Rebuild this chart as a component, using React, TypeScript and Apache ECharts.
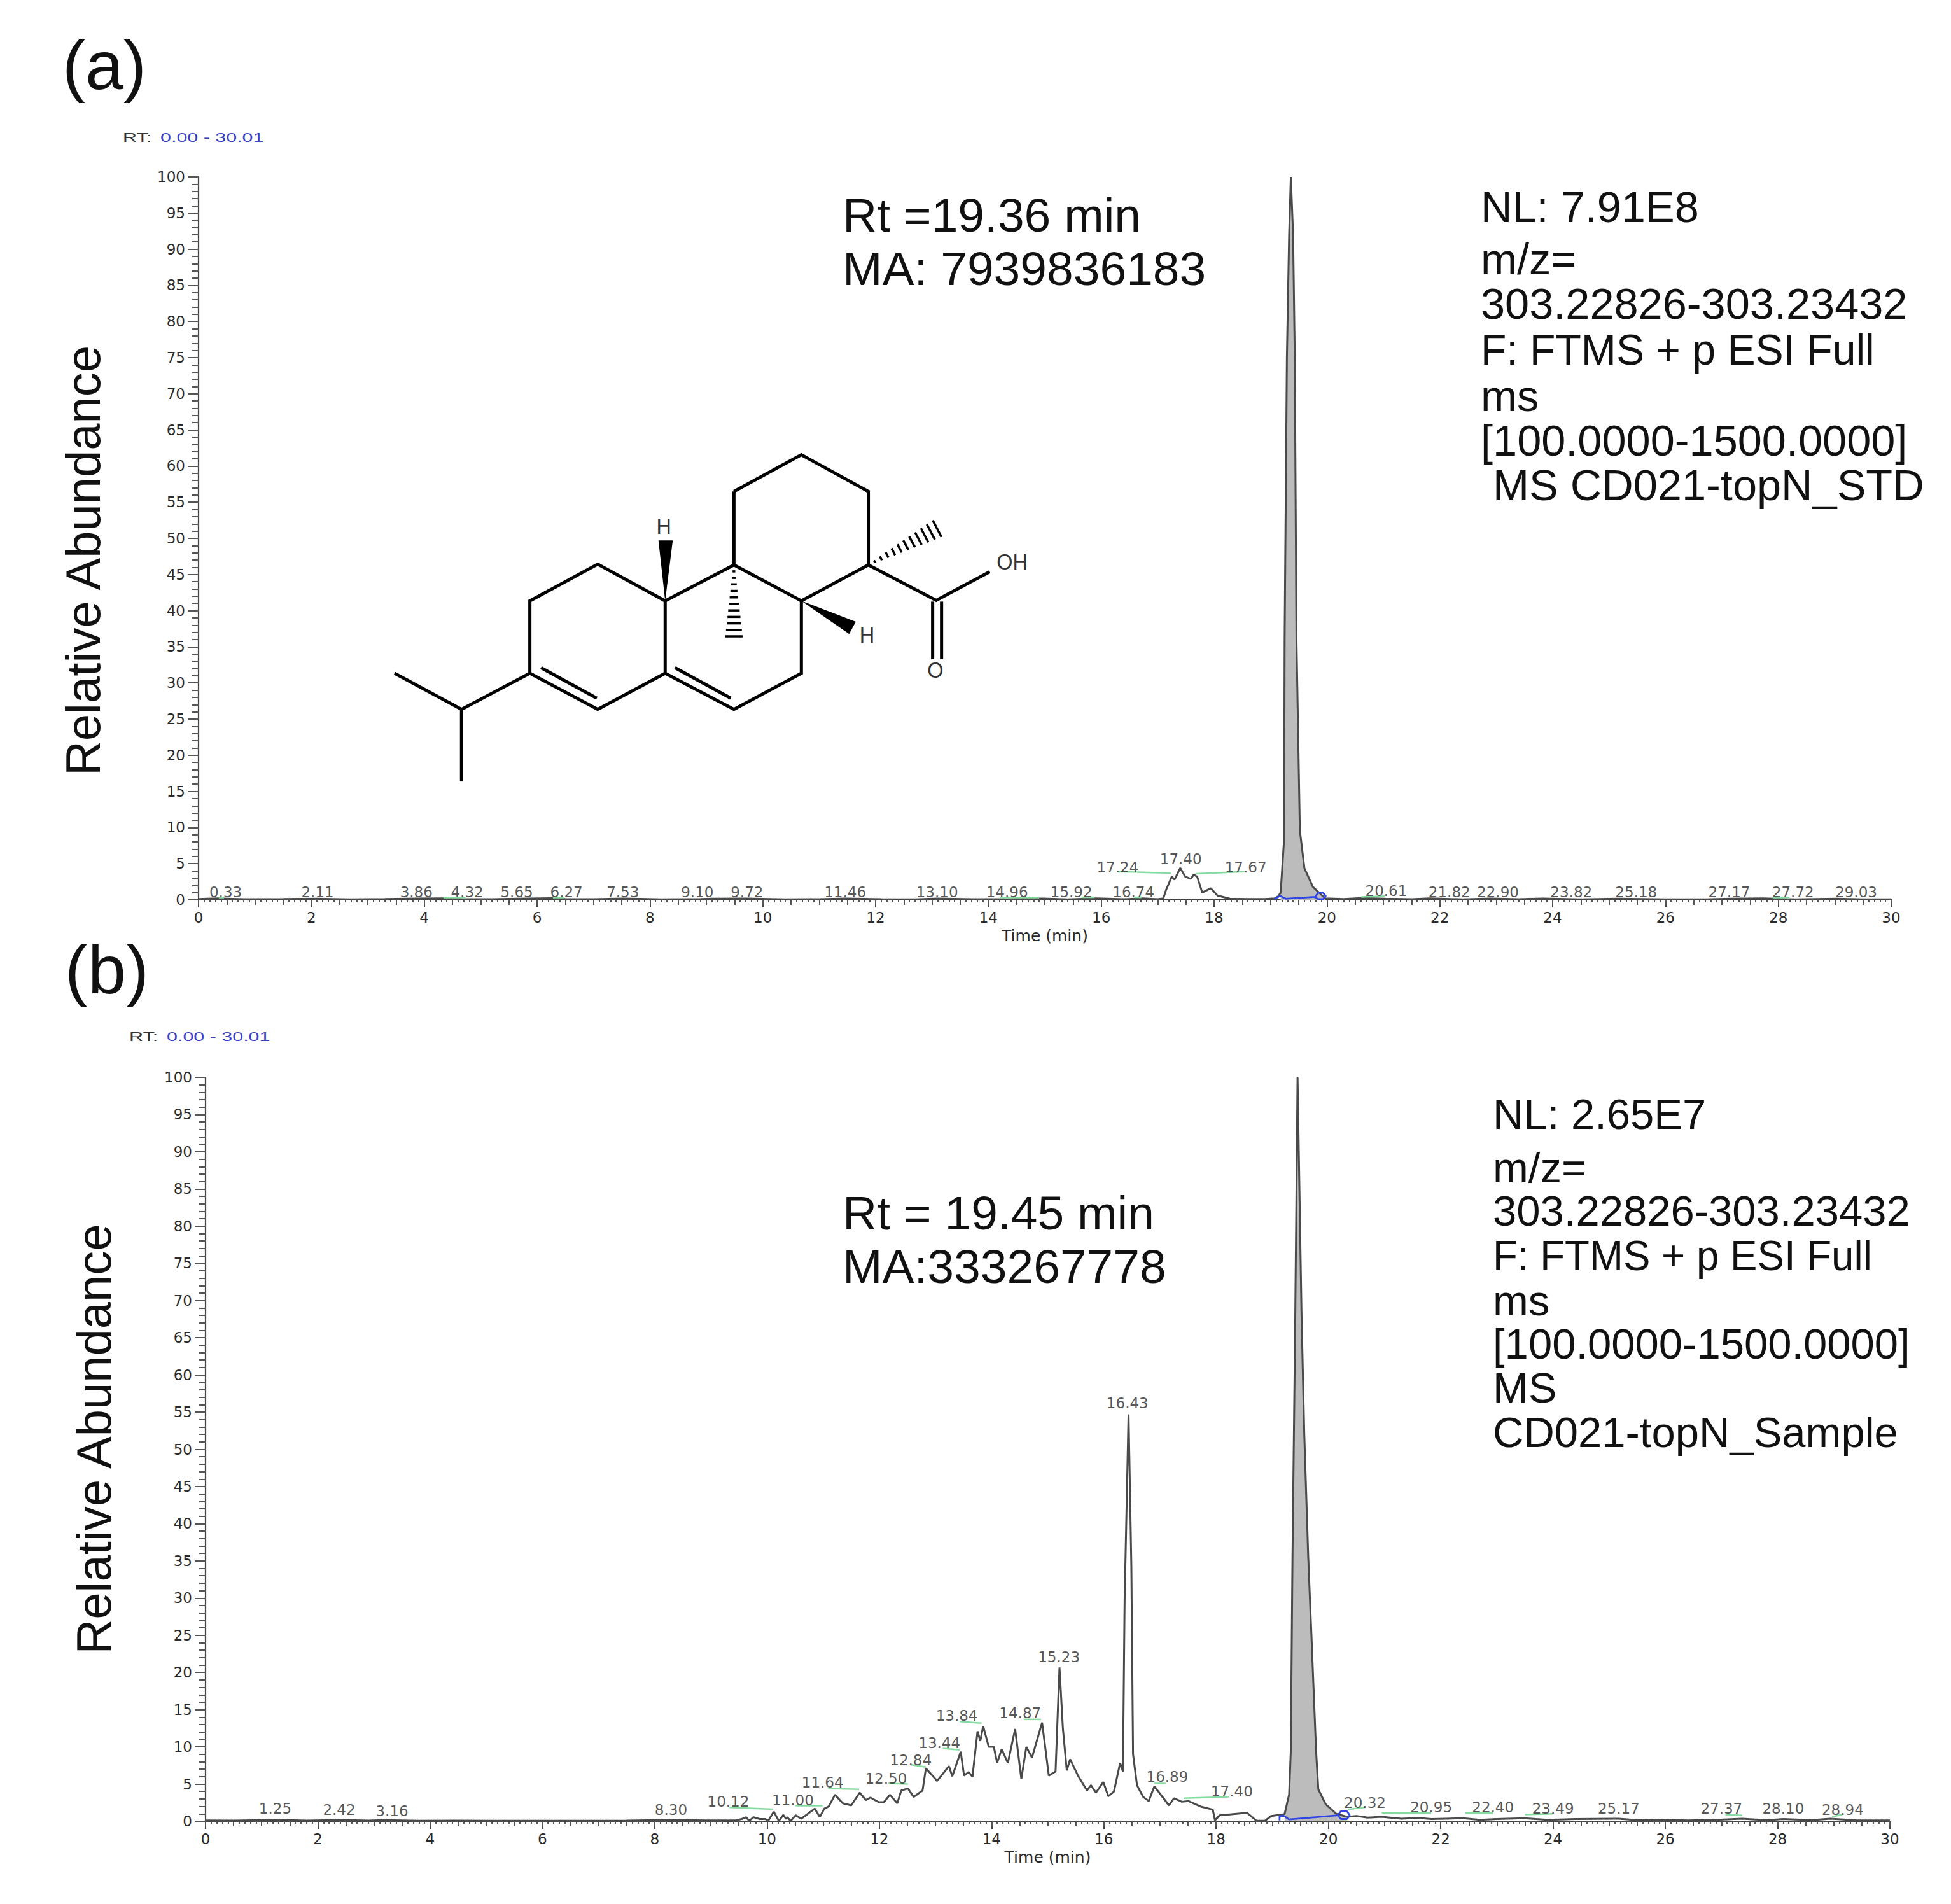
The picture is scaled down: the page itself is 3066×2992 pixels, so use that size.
import React, { useEffect, useRef } from "react";
import * as echarts from "echarts";

// ---------- Panel (a) trace ----------
const aPreTime = [0,0.33,0.8,1.5,2.11,2.7,3.3,3.86,4.32,4.7,5.2,5.65,6.27,6.5,7,7.53,8.2,8.9,9.1,9.72,10.4,11,11.46,12.1,12.7,13.1,13.7,14.3,14.96,15.4,15.92,16.4,16.74,17.0,17.1,17.15,17.25,17.3,17.4,17.49,17.59,17.64,17.7,17.79,17.94,18.06,18.28,18.6,18.9,19.07,19.14];
const aPreAbund = [0.1,0.2,0.08,0.1,0.15,0.07,0.1,0.18,0.2,0.1,0.08,0.15,0.22,0.1,0.08,0.18,0.06,0.1,0.16,0.18,0.07,0.09,0.17,0.08,0.07,0.17,0.09,0.08,0.18,0.07,0.2,0.09,0.2,0.08,0.2,1.4,3.2,2.8,4.4,3.2,2.9,3.5,3.2,1.0,1.6,0.6,0.15,0.1,0.12,0.2,0.5];
const aPeakTime = [19.18,19.24,19.25,19.29,19.33,19.36,19.4,19.43,19.46,19.52,19.6,19.75,19.97];
const aPeakAbund = [1.0,8.3,36,75,92,100,92,75,36,9.6,4.4,1.8,0.2];
const aPostTime = [20.3,20.61,21.03,21.5,21.82,22.4,22.9,23.4,23.82,24.5,25.18,26,26.7,27.17,27.72,28.3,29.03,29.5,30];
const aPostAbund = [0.12,0.25,0.15,0.08,0.2,0.07,0.18,0.08,0.17,0.07,0.16,0.06,0.07,0.16,0.2,0.07,0.15,0.06,0.07];

// ---------- Panel (b) trace ----------
const bPreTime = [0,0.5,1,1.25,1.8,2.42,2.9,3.16,3.8,4.5,5.2,6,6.8,7.5,8.3,8.9,9.44,9.55,9.63,9.68,9.76,9.87,9.97,10.02,10.12,10.21,10.29,10.34,10.36,10.42,10.51,10.61,10.85,10.94,11.02,11.1,11.21,11.35,11.5,11.65,11.76,11.84,11.99,12.08,12.19,12.32,12.39,12.51,12.61,12.77,12.83,13.03,13.24,13.3,13.45,13.51,13.59,13.66,13.75,13.8,13.85,13.95,14.04,14.1,14.18,14.29,14.42,14.53,14.62,14.72,14.9,15.02,15.14,15.21,15.27,15.34,15.4,15.54,15.7,15.77,15.86,15.99,16.08,16.18,16.29,16.34,16.37,16.44,16.49,16.52,16.59,16.61,16.7,16.8,16.9,17.16,17.25,17.39,17.51,17.74,17.94,17.98,18.06,18.55,18.72,18.87,18.98,19.19];
const bPreAbund = [0.1,0.08,0.15,0.2,0.08,0.18,0.08,0.16,0.06,0.08,0.06,0.07,0.06,0.08,0.18,0.1,0.1,0.3,0.55,0.05,0.55,0.3,0.3,0.05,1.28,0.05,0.85,0.3,0.55,0.05,0.8,0.34,1.7,0.57,1.7,2.0,3.56,2.42,2.14,3.85,2.85,3.19,2.57,2.57,3.56,2.42,4.13,4.42,3.28,4.13,7.13,5.42,7.41,6.05,9.35,6.13,6.62,5.99,12.1,10.8,12.8,10.0,10.0,7.84,9.7,7.84,12.4,5.7,10.0,8.55,13.26,6.13,6.7,20.67,12.55,6.84,8.33,6.13,4.13,4.85,3.85,5.28,3.36,3.99,7.84,6.7,29.7,54.7,34.3,9,4.9,4.56,3.28,2.71,4.7,2.14,3.08,2.62,2.71,1.94,1.57,0.14,0.8,1.14,0.06,0.06,0.71,0.91];
const bPeakTime = [19.22,19.3,19.33,19.36,19.41,19.45,19.52,19.57,19.64,19.71,19.78,19.82,19.95,20.14,20.33];
const bPeakAbund = [1.0,3.6,9.5,35.6,68.4,100,68.4,52,35.6,22.6,9.5,4.3,2.3,1.0,0.6];
const bPostTime = [20.5,20.7,20.95,21.3,21.6,21.83,22.1,22.4,22.7,23,23.49,23.9,24.4,25.17,25.5,26,26.4,26.9,27.37,27.8,28.1,28.6,28.94,29.4,30];
const bPostAbund = [0.7,0.5,0.6,0.35,0.45,0.3,0.35,0.4,0.2,0.3,0.4,0.2,0.3,0.35,0.15,0.2,0.1,0.2,0.35,0.15,0.3,0.15,0.35,0.12,0.1];

// ---------- Peak labels: text, time, abundance ----------
const aLabelText = ["0.33","2.11","3.86","4.32","5.65","6.27","7.53","9.10","9.72","11.46","13.10","14.96","15.92","16.74","17.24","17.40","17.67","20.61","21.82","22.90","23.82","25.18","27.17","27.72","29.03"];
const aLabelTime = [0.48,2.11,3.86,4.76,5.64,6.52,7.52,8.84,9.72,11.46,13.09,14.33,15.47,16.57,16.29,17.41,18.56,21.05,22.17,23.03,24.33,25.48,27.13,28.26,29.38];
const aLabelAbund = [1.05,1.05,1.05,1.05,1.05,1.05,1.05,1.05,1.05,1.05,1.05,1.05,1.05,1.05,4.5,5.6,4.5,1.2,1.05,1.05,1.05,1.05,1.05,1.05,1.05];
const bLabelText = ["1.25","2.42","3.16","8.30","10.12","11.00","11.64","12.50","12.84","13.44","13.84","14.87","15.23","16.43","16.89","17.40","20.32","20.95","22.40","23.49","25.17","27.37","28.10","28.94"];
const bLabelTime = [1.24,2.38,3.32,8.29,9.31,10.46,10.99,12.12,12.56,13.07,13.38,14.51,15.2,16.42,17.13,18.28,20.65,21.83,22.93,24,25.17,27,28.1,29.16];
const bLabelAbund = [1.67,1.5,1.34,1.5,2.68,2.84,5.18,5.7,8.19,10.5,14.2,14.55,22.1,56.2,6,4,2.5,1.84,1.84,1.67,1.67,1.67,1.67,1.5];

// ---------- Green peak-threshold segments [t1, y1, t2, y2] ----------
const aGreen = [[0.36,0.3,0.45,0.3],[4.34,0.3,4.73,0.3],[6.28,0.3,6.48,0.3],[14.2,0.3,14.9,0.3],[15.65,0.35,15.88,0.35],[16.59,0.35,16.72,0.35],[16.29,3.9,17.23,3.7],[17.68,3.6,18.54,3.9],[20.61,0.4,21.03,0.5],[27.9,0.3,28.2,0.3]];
const bGreen = [[9.33,1.85,10.1,1.63],[10.51,2.1,10.99,2.1],[11.09,4.4,11.64,4.3],[12.16,5.1,12.51,5],[12.57,7.6,12.83,7.3],[13.13,9.8,13.43,9.6],[13.43,13.4,13.82,13.2],[14.58,13.7,14.88,13.7],[16.9,5.1,17.1,5.1],[17.42,3.1,18.23,3.3],[20.35,1.6,20.65,1.85],[20.95,1.1,21.83,1.1],[22.44,1.1,22.93,1.1],[23.5,0.9,24,1],[27.07,0.9,27.37,0.8],[28.97,0.6,29.15,0.9]];

// ---------- Blue integration baseline and end loop ----------
const aBlueTime = [19.07,19.17,19.27,19.79,19.84,19.93,19.98,19.93,19.84,19.79];
const aBlueAbund = [0.1,0.55,0.15,0.4,0.95,1.0,0.5,0.1,0.1,0.4];
const bBlueTime = [19.13,19.13,19.2,19.3,20.17,20.22,20.33,20.38,20.33,20.22,20.17];
const bBlueAbund = [0.1,0.7,0.75,0.25,0.8,1.35,1.35,0.8,0.3,0.3,0.8];

// ---------- Texts ----------
const aInfo = ["NL: 7.91E8","m/z=","303.22826-303.23432","F: FTMS + p ESI Full","ms","[100.0000-1500.0000]"," MS CD021-topN_STD"];
const bInfo = ["NL: 2.65E7","m/z=","303.22826-303.23432","F: FTMS + p ESI Full","ms","[100.0000-1500.0000]","MS","CD021-topN_Sample"];
const aRt = ["Rt =19.36 min","MA: 7939836183"];
const bRt = ["Rt = 19.45 min","MA:333267778"];

// ---------- Structure drawing, in inset units ----------
const bondChains = [
  [[817,240],[968,90],[1118,240],[1118,540],[968,687],[817,540],[817,240]],
  [[817,540],[663,687],[663,983],[817,1130],[968,983],[968,687]],
  [[663,687],[512,537],[360,687],[360,983],[512,1130],[663,983]],
  [[385,960],[510,1085]],[[685,960],[810,1085]],
  [[360,983],[207,1130],[57,983]],[[207,1130],[207,1425]],
  [[1118,540],[1270,685],[1390,568]],
  [[1262,690],[1262,925]],[[1282,690],[1282,925]],
];
const wedges = [[[663,687],[648,440],[680,440]],[[968,687],[1090,772],[1075,822]]];
const hashFromTo = [[817,540,817,832,42],[1118,540,1272,392,46]];
const atomLabels = [["H",660,380],["H",1115,825],["OH",1440,525],["O",1268,968]];

const SANS = "'Liberation Sans', Arial, sans-serif";
const TICK = "'DejaVu Sans', sans-serif";
const mx = (v: number) => 580 + v / 1.425;
const my = (v: number) => 680 + v / 2.6;
const zip = (a: number[], b: number[]) => a.map((v, i) => [v, b[i]]);

function moleculeGraphics() {
  const out: any[] = [];
  bondChains.forEach((c) => out.push({ type: "polyline", shape: { points: c.map((p) => [mx(p[0]), my(p[1])]) }, style: { stroke: "#000", lineWidth: 5, fill: null, lineJoin: "miter" } }));
  wedges.forEach((w) => out.push({ type: "polygon", shape: { points: w.map((p) => [mx(p[0]), my(p[1])]) }, style: { fill: "#000" } }));
  hashFromTo.forEach(([x1, y1, x2, y2, w]) => {
    const n = 11;
    const dx = mx(x2) - mx(x1), dy = my(y2) - my(y1);
    const len = Math.hypot(dx, dy);
    for (let i = 1; i <= n; i++) {
      const f = i / n, cx = mx(x1) + dx * f, cy = my(y1) + dy * f;
      const half = (w / 2) * f * 0.6 + 1;
      out.push({ type: "line", shape: { x1: cx - (dy / len) * half, y1: cy + (dx / len) * half, x2: cx + (dy / len) * half, y2: cy - (dx / len) * half }, style: { stroke: "#000", lineWidth: 3.5 } });
    }
  });
  atomLabels.forEach(([t, x, y]) => out.push({ type: "text", x: mx(x as number), y: my(y as number), scaleX: 0.9, style: { text: t, font: `36px ${SANS}`, fill: "#333", align: "center", verticalAlign: "middle" } }));
  return out;
}

const txt = (text: string, x: number, y: number, size: number, extra: any = {}, scaleX = 1) => ({
  type: "text", x, y, scaleX,
  style: { text, font: `${size}px ${SANS}`, fill: "#111", align: "left", verticalAlign: "middle", ...extra },
});

function panel(xBase: number, yIndex: number, time: number[], abund: number[], peakT: number[], peakA: number[], labT: number[], labA: number[], labS: string[], green: number[][], blueT: number[], blueA: number[]) {
  const common = { xAxisIndex: xBase, yAxisIndex: yIndex, silent: true };
  return [
    { ...common, type: "line", data: zip(peakT, peakA), symbol: "none", lineStyle: { width: 0 }, areaStyle: { color: "#bcbcbc", opacity: 1 }, z: 2 },
    { ...common, type: "line", data: zip(time, abund), symbol: "none", lineStyle: { color: "#4a4a4a", width: 3 }, z: 3 },
    ...green.map((g) => ({ ...common, type: "line", data: [[g[0], g[1]], [g[2], g[3]]], symbol: "none", lineStyle: { color: "#86dca0", width: 2.5 }, z: 3 })),
    { ...common, type: "line", data: zip(blueT, blueA), symbol: "none", lineStyle: { color: "#2f45e6", width: 2.8 }, z: 4 },
    {
      ...common, type: "scatter", symbolSize: 0, z: 5,
      data: labS.map((s, i) => ({ name: s, value: [labT[i], labA[i]] })),
      label: { show: true, position: "inside", formatter: "{b}", fontFamily: TICK, fontSize: 23, color: "#2a2a2a" },
    },
  ];
}

function axes(grid: number, yNameGap: number, yNamePadding: number[]) {
  const line = { show: true, lineStyle: { color: "#444", width: 2.2 } };
  return {
    x: [
      { type: "value", gridIndex: grid, min: 0, max: 30, interval: 2, position: "bottom", name: "Time (min)", nameLocation: "middle", nameGap: 44,
        nameTextStyle: { fontFamily: TICK, fontSize: 25, color: "#2a2a2a" }, axisLine: line, axisTick: { length: 12, lineStyle: { color: "#444", width: 2 } },
        axisLabel: { margin: 16, fontFamily: TICK, fontSize: 23, color: "#2a2a2a" }, splitLine: { show: false }, minorTick: { show: false } },
      { type: "value", gridIndex: grid, min: 0, max: 30, interval: 0.5, position: "bottom", axisLine: line, axisTick: { length: 8, lineStyle: { color: "#555", width: 2 } },
        axisLabel: { show: false }, splitLine: { show: false }, minorTick: { show: true, splitNumber: 5, length: 4, lineStyle: { color: "#555", width: 2 } } },
    ],
    y: { type: "value", gridIndex: grid, min: 0, max: 100, interval: 5, name: "Relative Abundance", nameLocation: "middle", nameRotate: 90, nameGap: yNameGap,
      nameTextStyle: { fontFamily: SANS, fontSize: 76, color: "#111", padding: yNamePadding },
      axisLine: line, axisTick: { length: 17, lineStyle: { color: "#555", width: 2 } }, axisLabel: { margin: 21, fontFamily: TICK, fontSize: 23, color: "#2a2a2a" },
      splitLine: { show: false }, minorTick: { show: true, splitNumber: 5, length: 10, lineStyle: { color: "#555", width: 2 } } },
  };
}

export default function App() {
  const ref = useRef<HTMLDivElement>(null);
  useEffect(() => {
    const chart = echarts.init(ref.current!, undefined, { renderer: "svg" });
    const axA = axes(0, 144, [0, 70, 0, 0]), axB = axes(1, 138, [0, 0, 0, 32]);
    const aInfoY = [325, 407, 477, 549, 622, 692, 762];
    const bInfoY = [1750, 1834, 1902, 1973, 2043, 2111, 2180, 2250];
    const graphic: any[] = [
      txt("(a)", 98, 102, 108),
      txt("(b)", 102, 1523, 108),
      txt("RT:", 193, 216, 21, { fill: "#333" }, 1.45),
      txt("0.00 - 30.01", 252, 216, 21, { fill: "#3a40c4" }, 1.45),
      txt("RT:", 203, 1629, 21, { fill: "#333" }, 1.45),
      txt("0.00 - 30.01", 262, 1629, 21, { fill: "#3a40c4" }, 1.45),
      ...aRt.map((s, i) => txt(s, 1324, [338, 422][i], 75)),
      ...bRt.map((s, i) => txt(s, 1324, [1906, 1990][i], 75)),
      ...aInfo.map((s, i) => txt(s, 2327, aInfoY[i], 68.5, {}, i === 3 ? 0.965 : 1)),
      ...bInfo.map((s, i) => txt(s, 2346, bInfoY[i], 67, {}, i === 3 ? 0.95 : 1)),
      ...moleculeGraphics(),
    ];
    chart.setOption({
      animation: false,
      backgroundColor: "#fff",
      grid: [
        { left: 312, top: 278, width: 2660, height: 1136 },
        { left: 323, top: 1693, width: 2647, height: 1169 },
      ],
      xAxis: [...axA.x, ...axB.x],
      yAxis: [axA.y, axB.y],
      graphic,
      series: [
        ...panel(0, 0, [...aPreTime, ...aPeakTime, ...aPostTime], [...aPreAbund, ...aPeakAbund, ...aPostAbund], aPeakTime, aPeakAbund, aLabelTime, aLabelAbund, aLabelText, aGreen, aBlueTime, aBlueAbund),
        ...panel(2, 1, [...bPreTime, ...bPeakTime, ...bPostTime], [...bPreAbund, ...bPeakAbund, ...bPostAbund], bPeakTime, bPeakAbund, bLabelTime, bLabelAbund, bLabelText, bGreen, bBlueTime, bBlueAbund),
      ],
    });
    return () => chart.dispose();
  }, []);
  return <div ref={ref} style={{ position: "fixed", left: 0, top: 0, width: 3066, height: 2992 }} />;
}
